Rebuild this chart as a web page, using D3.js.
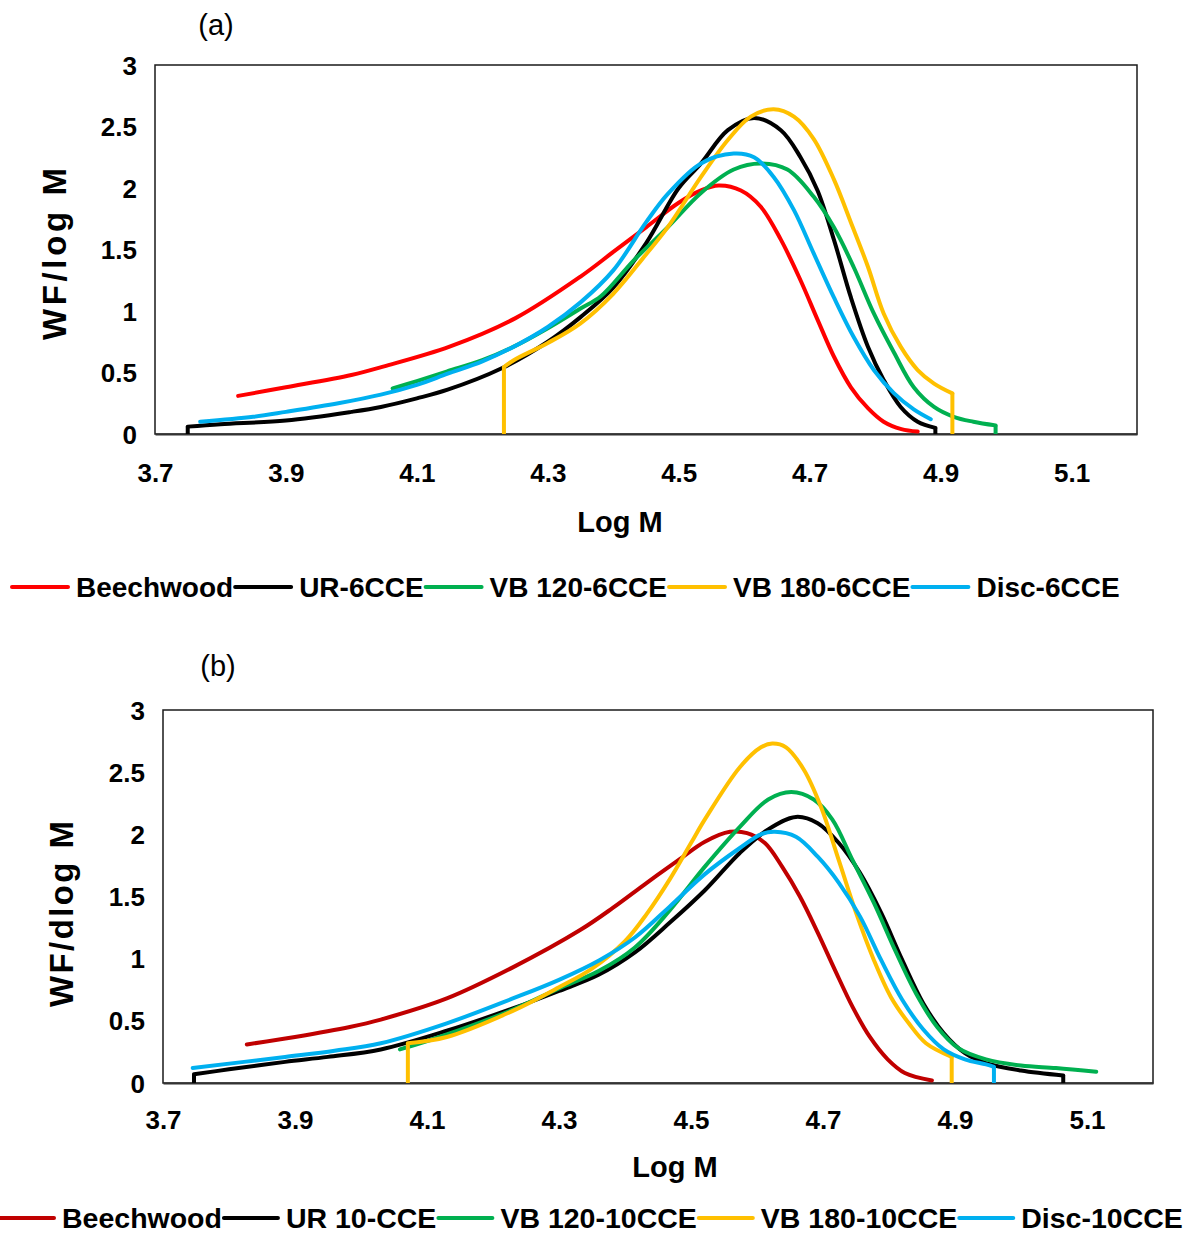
<!DOCTYPE html>
<html><head><meta charset="utf-8">
<script src="https://cdn.jsdelivr.net/npm/d3@7"></script>
<style>body{margin:0;background:#fff}svg{display:block}text{font-family:"Liberation Sans",Arial,sans-serif}</style>
</head><body><svg id="c" width="1192" height="1236"></svg>
<script>
// ---------- Data ----------
const xTicks = [3.7, 3.9, 4.1, 4.3, 4.5, 4.7, 4.9, 5.1];
const yTicks = [0, 0.5, 1, 1.5, 2, 2.5, 3];
const xTickLabels = ["3.7","3.9","4.1","4.3","4.5","4.7","4.9","5.1"];
const yTickLabels = ["0","0.5","1","1.5","2","2.5","3"];

const seriesNamesA = ["Beechwood","UR-6CCE","VB 120-6CCE","VB 180-6CCE","Disc-6CCE"];
const seriesNamesB = ["Beechwood","UR 10-CCE","VB 120-10CCE","VB 180-10CCE","Disc-10CCE"];

// panel (a): [log M, WF/log M]
const beechA = [[3.827,0.31],[3.9,0.38],[4.0,0.48],[4.05,0.55],[4.15,0.71],[4.25,0.94],[4.35,1.28],[4.40,1.48],[4.45,1.68],[4.50,1.88],[4.534,1.98],[4.561,2.02],[4.595,1.98],[4.625,1.85],[4.656,1.58],[4.686,1.25],[4.712,0.93],[4.737,0.63],[4.763,0.38],[4.789,0.21],[4.813,0.10],[4.84,0.04],[4.865,0.02]];
const ur6A = [[3.75,0],[3.75,0.06],[3.8,0.08],[3.9,0.11],[4.0,0.18],[4.045,0.22],[4.10,0.29],[4.147,0.36],[4.228,0.53],[4.30,0.75],[4.35,0.95],[4.40,1.19],[4.45,1.55],[4.50,2.00],[4.534,2.20],[4.575,2.47],[4.615,2.57],[4.656,2.47],[4.686,2.25],[4.712,1.98],[4.737,1.58],[4.763,1.11],[4.789,0.71],[4.813,0.44],[4.839,0.22],[4.865,0.10],[4.892,0.05],[4.892,0]];
const vb120A = [[4.063,0.37],[4.1,0.43],[4.147,0.51],[4.2,0.60],[4.248,0.71],[4.30,0.86],[4.35,1.02],[4.381,1.12],[4.431,1.41],[4.483,1.68],[4.534,1.96],[4.584,2.15],[4.625,2.20],[4.666,2.15],[4.706,1.93],[4.737,1.68],[4.767,1.36],[4.798,0.98],[4.829,0.66],[4.859,0.38],[4.89,0.22],[4.92,0.14],[4.95,0.10],[4.984,0.07],[4.984,0]];
const vb180A = [[4.233,0],[4.233,0.545],[4.248,0.60],[4.30,0.74],[4.35,0.90],[4.40,1.14],[4.45,1.46],[4.483,1.68],[4.534,2.09],[4.575,2.39],[4.61,2.58],[4.645,2.64],[4.676,2.58],[4.706,2.40],[4.737,2.07],[4.763,1.72],[4.789,1.36],[4.813,0.98],[4.839,0.71],[4.865,0.52],[4.89,0.41],[4.918,0.33],[4.918,0]];
const disc6A = [[3.769,0.10],[3.85,0.14],[3.9,0.18],[3.98,0.25],[4.045,0.32],[4.1,0.40],[4.147,0.49],[4.2,0.59],[4.248,0.71],[4.30,0.87],[4.35,1.07],[4.40,1.33],[4.45,1.72],[4.483,1.95],[4.534,2.20],[4.584,2.28],[4.615,2.25],[4.645,2.09],[4.676,1.82],[4.706,1.47],[4.737,1.11],[4.767,0.79],[4.798,0.52],[4.829,0.33],[4.859,0.20],[4.885,0.12]];

// panel (b): [log M, WF/dlog M]
const beechB = [[3.827,0.31],[3.9,0.37],[3.983,0.45],[4.03,0.51],[4.13,0.68],[4.23,0.93],[4.332,1.23],[4.382,1.41],[4.433,1.61],[4.483,1.80],[4.521,1.94],[4.559,2.02],[4.585,2.01],[4.612,1.93],[4.638,1.74],[4.665,1.50],[4.692,1.21],[4.718,0.91],[4.745,0.61],[4.771,0.37],[4.798,0.19],[4.824,0.08],[4.865,0.02]];
const ur10B = [[3.747,0],[3.747,0.07],[3.80,0.11],[3.885,0.17],[3.95,0.21],[4.03,0.27],[4.13,0.42],[4.23,0.60],[4.30,0.74],[4.36,0.87],[4.415,1.05],[4.468,1.29],[4.521,1.55],[4.574,1.85],[4.617,2.04],[4.659,2.14],[4.692,2.09],[4.724,1.93],[4.756,1.69],[4.788,1.37],[4.82,0.99],[4.852,0.64],[4.883,0.40],[4.915,0.24],[4.947,0.16],[5.0,0.10],[5.064,0.06],[5.064,0]];
const vb120B = [[4.059,0.27],[4.13,0.39],[4.23,0.59],[4.30,0.76],[4.36,0.90],[4.415,1.09],[4.468,1.39],[4.521,1.74],[4.574,2.06],[4.617,2.28],[4.652,2.34],[4.686,2.28],[4.714,2.12],[4.745,1.79],[4.777,1.45],[4.809,1.07],[4.841,0.72],[4.873,0.45],[4.905,0.28],[4.947,0.19],[5.0,0.14],[5.053,0.12],[5.114,0.09]];
const vb180B = [[4.071,0],[4.071,0.32],[4.13,0.37],[4.23,0.58],[4.30,0.77],[4.35,0.92],[4.40,1.14],[4.433,1.36],[4.468,1.64],[4.50,1.93],[4.521,2.12],[4.574,2.54],[4.606,2.70],[4.623,2.73],[4.644,2.70],[4.671,2.52],[4.697,2.22],[4.724,1.79],[4.75,1.37],[4.777,0.99],[4.803,0.69],[4.83,0.48],[4.856,0.32],[4.895,0.21],[4.895,0]];
const disc10B = [[3.745,0.12],[3.885,0.21],[3.96,0.26],[4.03,0.32],[4.13,0.48],[4.23,0.68],[4.30,0.83],[4.362,0.99],[4.415,1.17],[4.468,1.42],[4.521,1.68],[4.574,1.89],[4.606,2.00],[4.627,2.02],[4.659,1.98],[4.692,1.82],[4.724,1.61],[4.756,1.34],[4.788,0.99],[4.82,0.67],[4.852,0.43],[4.883,0.27],[4.915,0.19],[4.947,0.15],[4.959,0.13],[4.959,0]];

const colorsA = ["#FF0000","#000000","#00B050","#FFC000","#00B0F0"];
const colorsB = ["#C00000","#000000","#00B050","#FFC000","#00B0F0"];

// ---------- Drawing ----------
const svg = d3.select("#c");
svg.append("rect").attr("width",1192).attr("height",1236).attr("fill","#fff");

function panel(cfg){
  const g = svg.append("g");
  const x = d3.scaleLinear().domain([3.7,5.2]).range([cfg.left,cfg.right]);
  const y = d3.scaleLinear().domain([0,3]).range([cfg.bottom,cfg.top]);

  g.append("rect").attr("x",cfg.left).attr("y",cfg.top)
    .attr("width",cfg.right-cfg.left).attr("height",cfg.bottom-cfg.top)
    .attr("fill","none").attr("stroke","#1a1a1a").attr("stroke-width",1.5);

  const xa = g.append("g").attr("transform",`translate(0,${cfg.bottom})`)
    .call(d3.axisBottom(x).tickValues(xTicks).tickSize(0).tickFormat((d,i)=>xTickLabels[i]));
  xa.select(".domain").attr("stroke","#333").attr("stroke-width",2);
  xa.selectAll("text").attr("font-size",26).attr("font-weight","bold").attr("fill","#000")
    .attr("dy",null).attr("y",cfg.xLabelY-cfg.bottom);
  const ya = g.append("g").attr("transform",`translate(${cfg.left},0)`)
    .call(d3.axisLeft(y).tickValues(yTicks).tickSize(0).tickFormat((d,i)=>yTickLabels[i]));
  ya.select(".domain").remove();
  ya.selectAll("text").attr("font-size",26).attr("font-weight","bold").attr("fill","#000")
    .attr("x",cfg.yLabelX-cfg.left).attr("dy","0.35em");

  g.append("text").attr("x",cfg.xTitleX).attr("y",cfg.xTitleY).attr("text-anchor","middle")
    .attr("font-size",29).attr("font-weight","bold").text("Log M");
  g.append("text").attr("transform",`translate(${cfg.yTitleX},${cfg.yTitleY}) rotate(-90)`)
    .attr("text-anchor","middle").attr("font-size",33).attr("font-weight","bold")
    .attr("textLength",cfg.yTitleLen).attr("lengthAdjust","spacing").text(cfg.yTitle);
  g.append("text").attr("x",cfg.tagX).attr("y",cfg.tagY).attr("text-anchor","middle")
    .attr("font-size",29).text(cfg.tag);

  const smooth = d3.line().x(d=>x(d[0])).y(d=>y(d[1])).curve(d3.curveCatmullRom.alpha(0.5));
  const straight = d3.line().x(d=>x(d[0])).y(d=>y(d[1]));
  cfg.series.forEach((s,i)=>{
    const col = cfg.colors[i];
    let pts = s.slice();
    const segs = [];
    if (pts.length>1 && pts[0][0]===pts[1][0]) { segs.push([pts[0],pts[1]]); pts = pts.slice(1); }
    const n = pts.length;
    if (n>1 && pts[n-1][0]===pts[n-2][0]) { segs.push([pts[n-2],pts[n-1]]); pts = pts.slice(0,n-1); }
    g.append("path").attr("d",smooth(pts)).attr("fill","none").attr("stroke",col)
      .attr("stroke-width",4).attr("stroke-linejoin","round").attr("stroke-linecap","round");
    segs.forEach(sg=>g.append("path").attr("d",straight(sg)).attr("fill","none").attr("stroke",col)
      .attr("stroke-width",4).attr("stroke-linecap","butt"));
  });

  let cx = cfg.legX;
  cfg.names.forEach((nm,i)=>{
    g.append("line").attr("x1",cx).attr("x2",cx+cfg.legLine).attr("y1",cfg.legY).attr("y2",cfg.legY)
      .attr("stroke",cfg.colors[i]).attr("stroke-width",4).attr("stroke-linecap","round");
    cx += cfg.legLine + 8;
    const t = g.append("text").attr("x",cx).attr("y",cfg.legY+10).attr("font-size",cfg.legFont)
      .attr("font-weight","bold").text(nm);
    cx += t.node().getComputedTextLength() + 2;
  });
}

panel({left:155,right:1137,top:65,bottom:434,xLabelY:482,yLabelX:137,
  xTitleX:620,xTitleY:532,yTitleX:66,yTitleY:254,yTitle:"WF/log M",yTitleLen:172,tag:"(a)",tagX:216,tagY:35,
  series:[beechA,ur6A,vb120A,vb180A,disc6A],colors:colorsA,names:seriesNamesA,
  legX:12,legY:587,legLine:56,legFont:28});
panel({left:163,right:1153,top:710,bottom:1083,xLabelY:1129,yLabelX:145,
  xTitleX:675,xTitleY:1177,yTitleX:73,yTitleY:914,yTitle:"WF/dlog M",yTitleLen:186,tag:"(b)",tagX:218,tagY:676,
  series:[beechB,ur10B,vb120B,vb180B,disc10B],colors:colorsB,names:seriesNamesB,
  legX:0,legY:1218,legLine:54,legFont:28.5});
</script></body></html>
